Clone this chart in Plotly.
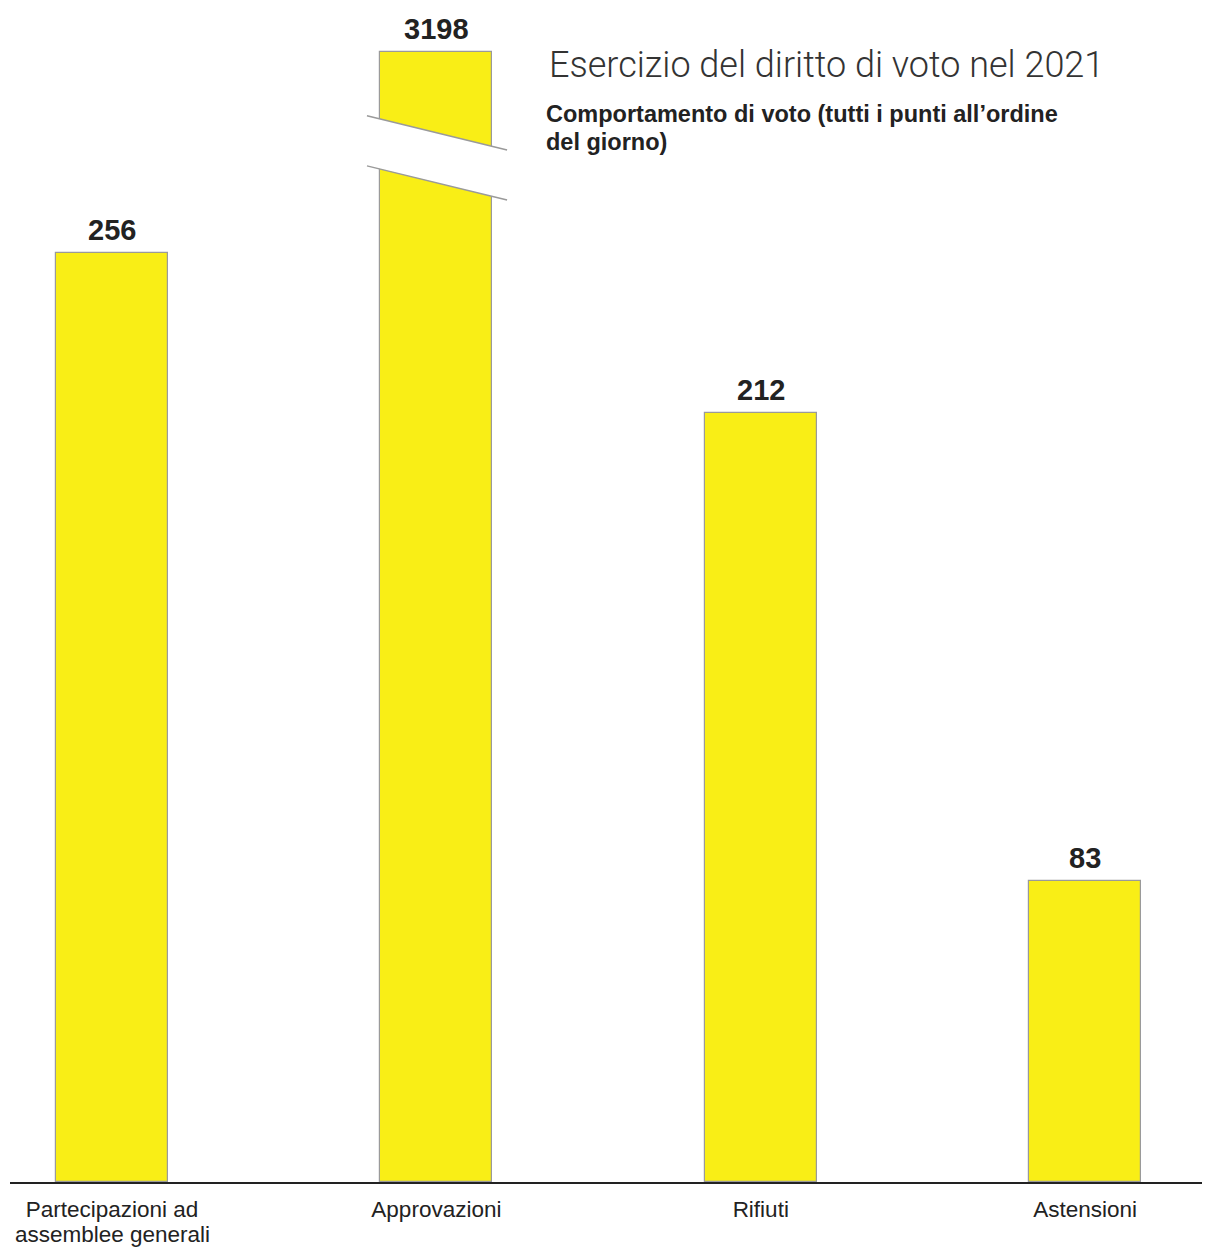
import plotly.graph_objects as go

categories = ["Partecipazioni ad", "Approvazioni", "Rifiuti", "Astensioni"]
category_second_lines = ["assemblee generali", "", "", ""]
values = [256, 3198, 212, 83]
value_labels = ["256", "3198", "212", "83"]
subtitle_lines = ["Comportamento di voto (tutti i punti all’ordine", "del giorno)"]

# axis-break rendering for the oversized bar
BREAK_CAP = 311.4          # displayed height of a broken bar (data units)
broken = [v > BREAK_CAP for v in values]
shown = [min(v, BREAK_CAP) for v in values]

x = list(range(len(categories)))
BAR_COLOR = "#f9ee16"
FONT = "Liberation Sans, Arial, Helvetica, sans-serif"
PLOT_H = 1174
CAT_SIZE = 22.5


def py(screen_y):
    return (1182 - screen_y) / PLOT_H


fig = go.Figure()
fig.add_trace(go.Bar(
    x=x, y=shown, width=0.345,
    marker=dict(color=BAR_COLOR, line=dict(color="#9a9a9a", width=1.2)),
    hoverinfo="skip",
))

for xi, v, lab in zip(x, shown, value_labels):
    fig.add_annotation(x=xi, y=v, text="<b>" + lab + "</b>", showarrow=False,
                       yanchor="bottom", yshift=5,
                       font=dict(family=FONT, size=29, color="#222222"))

# second lines of category labels
for xi, s in zip(x, category_second_lines):
    if s:
        fig.add_annotation(x=xi, xref="x", yref="paper", y=py(1234.5), text=s,
                           showarrow=False, yanchor="middle", xanchor="center",
                           font=dict(family=FONT, size=CAT_SIZE, color="#222222"))

# break marks
for xi, b in zip(x, broken):
    if not b:
        continue
    x0, x1 = xi - 0.214, xi + 0.218
    up0, up1 = 293.8, 284.4
    lo0, lo1 = 280.0, 270.6
    fig.add_shape(type="path", xref="x", yref="y", layer="above",
                  path=f"M {x0},{up0} L {x1},{up1} L {x1},{lo1} L {x0},{lo0} Z",
                  fillcolor="white", line=dict(width=0))
    fig.add_shape(type="line", xref="x", yref="y", layer="above",
                  x0=x0, y0=up0, x1=x1, y1=up1, line=dict(color="#9a9a9a", width=1.5))
    fig.add_shape(type="line", xref="x", yref="y", layer="above",
                  x0=x0, y0=lo0, x1=x1, y1=lo1, line=dict(color="#9a9a9a", width=1.5))

# titles
fig.add_annotation(xref="paper", yref="paper", x=(547 - 10) / 1200, y=py(65),
                   xanchor="left", yanchor="middle", showarrow=False,
                   text="Esercizio del diritto di voto nel 2021",
                   font=dict(family="Roboto, Liberation Sans, sans-serif", size=36, color="#333333", weight=300))
for line, sy in zip(subtitle_lines, [114, 142]):
    fig.add_annotation(xref="paper", yref="paper", x=(544 - 10) / 1200, y=py(sy),
                       xanchor="left", yanchor="middle", showarrow=False, align="left",
                       text="<b>" + line + "</b>",
                       font=dict(family=FONT, size=23.5, color="#222222"))

fig.update_layout(
    width=1202, height=1240,
    margin=dict(l=2, r=0, t=0, b=66),
    paper_bgcolor="white", plot_bgcolor="white",
    showlegend=False,
    bargap=0,
    xaxis=dict(range=[-0.3145, 3.385], tickmode="array", tickvals=x, ticktext=categories,
               showgrid=False, zeroline=False, showline=True, linecolor="#222222", linewidth=2,
               ticks="", ticklabelstandoff=6, automargin=False,
               tickfont=dict(family=FONT, size=CAT_SIZE, color="#222222"), fixedrange=True),
    yaxis=dict(range=[0, 323.5], visible=False, showgrid=False, zeroline=False,
               automargin=False, fixedrange=True),
)

fig.write_html("out.html")
